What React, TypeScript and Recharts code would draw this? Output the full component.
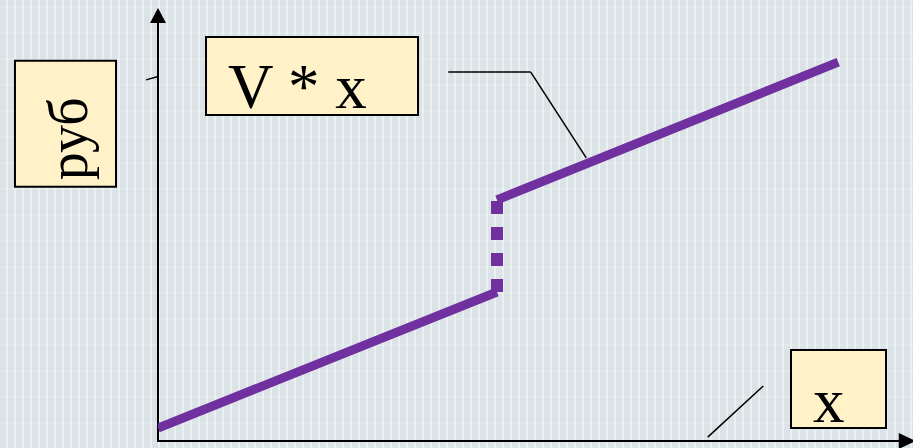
import React from "react";
import { LineChart, Line, XAxis, YAxis, ReferenceLine, ReferenceArea } from "recharts";

// Cost line (руб) against quantity x
const lowerSegment = [
  { x: 0, y: 3 },
  { x: 45.2, y: 34.4 },
];
const jumpSegment = [
  { x: 45.2, y: 34.4 },
  { x: 45.2, y: 55.7 },
];
const upperSegment = [
  { x: 45.2, y: 55.7 },
  { x: 90.7, y: 87.5 },
];

// Annotation labels
const yLabel = "руб";
const lineLabel = "V * x";
const xLabel = "x";

const W = 913;
const H = 448;
const PURPLE = "#7030A0";
const BOX_FILL = "#FFF2C9";
const FONT = "'Liberation Serif', 'Times New Roman', serif";

const XArrow = (p: any) => {
  const { x1, y1, x2 } = p;
  return (
    <g>
      <line x1={x1} y1={y1} x2={x2 - 10} y2={y1} stroke="#000" strokeWidth={2} />
      <polygon points={`${x2 + 4},${y1} ${x2 - 13},${y1 - 8} ${x2 - 13},${y1 + 8}`} fill="#000" />
    </g>
  );
};

const YArrow = (p: any) => {
  const { x1, y1, y2 } = p;
  const top = Math.min(y1, y2);
  const bottom = Math.max(y1, y2);
  return (
    <g>
      <line x1={x1} y1={bottom + 1} x2={x1} y2={top + 10} stroke="#000" strokeWidth={2} />
      <polygon points={`${x1},${top} ${x1 - 8},${top + 15} ${x1 + 8},${top + 15}`} fill="#000" />
    </g>
  );
};

const rubLabel = (props: any) => {
  const vb = props.viewBox;
  const cx = vb.x + vb.width / 2;
  const cy = vb.y + vb.height / 2 + 15;
  const bx = cx + 22;
  return (
    <text
      x={bx}
      y={cy}
      transform={`rotate(-90, ${bx}, ${cy})`}
      textAnchor="middle"
      fontFamily={FONT}
      fontSize={56}
      fill="#000"
    >
      {yLabel}
    </text>
  );
};

const vxLabel = (props: any) => {
  const vb = props.viewBox;
  return (
    <text x={vb.x + 22} y={vb.y + 71} fontFamily={FONT} fontSize={63} fill="#000">
      {lineLabel}
    </text>
  );
};

const xBoxLabel = (props: any) => {
  const vb = props.viewBox;
  return (
    <text x={vb.x + 22} y={vb.y + 72} fontFamily={FONT} fontSize={63} fill="#000">
      {xLabel}
    </text>
  );
};

export default function App() {
  const bg: React.CSSProperties = {
    position: "absolute",
    left: 0,
    top: 0,
    width: W,
    height: H,
    backgroundColor: "#DCE3E6",
    backgroundImage:
      "repeating-linear-gradient(90deg, rgba(255,255,255,0) 0px, rgba(255,255,255,0) 6px, rgba(238,243,245,0.8) 6px, rgba(238,243,245,0.8) 8px), repeating-linear-gradient(0deg, rgba(255,255,255,0) 0px, rgba(255,255,255,0) 24px, rgba(234,240,242,0.4) 24px, rgba(234,240,242,0.4) 26px)",
  };
  return (
    <div style={bg}>
      <LineChart
        width={W}
        height={H}
        margin={{ top: 8, right: 5, bottom: 7, left: 158 }}
      >
        <XAxis type="number" dataKey="x" domain={[0, 100]} hide allowDataOverflow />
        <YAxis type="number" dataKey="y" domain={[0, 100]} hide allowDataOverflow />

        {/* axes with arrows */}
        <ReferenceLine
          segment={[{ x: 0, y: 0 }, { x: 100.5, y: 0 }]}
          ifOverflow="visible"
          shape={XArrow}
        />
        <ReferenceLine
          segment={[{ x: 0, y: 0 }, { x: 0, y: 100 }]}
          ifOverflow="visible"
          shape={YArrow}
        />
        {/* small tick on y axis */}
        <ReferenceLine
          segment={[{ x: -1.6, y: 83.4 }, { x: -0.1, y: 84.1 }]}
          ifOverflow="visible"
          stroke="#000"
          strokeWidth={1.5}
        />

        {/* callout lines */}
        <ReferenceLine
          segment={[{ x: 38.7, y: 85.2 }, { x: 49.7, y: 85.2 }]}
          ifOverflow="visible"
          stroke="#000"
          strokeWidth={1.5}
        />
        <ReferenceLine
          segment={[{ x: 49.7, y: 85.2 }, { x: 57.1, y: 65.4 }]}
          ifOverflow="visible"
          stroke="#000"
          strokeWidth={1.5}
        />
        <ReferenceLine
          segment={[{ x: 73.3, y: 0.9 }, { x: 80.7, y: 12.7 }]}
          ifOverflow="visible"
          stroke="#000"
          strokeWidth={1.5}
        />

        {/* label boxes */}
        <ReferenceArea
          x1={-19.07}
          x2={-5.6}
          y1={58.7}
          y2={87.8}
          ifOverflow="visible"
          fill={BOX_FILL}
          fillOpacity={1}
          stroke="#000"
          strokeWidth={2}
          label={rubLabel}
        />
        <ReferenceArea
          x1={6.4}
          x2={34.67}
          y1={75.3}
          y2={93.3}
          ifOverflow="visible"
          fill={BOX_FILL}
          fillOpacity={1}
          stroke="#000"
          strokeWidth={2}
          label={vxLabel}
        />
        <ReferenceArea
          x1={84.4}
          x2={97.07}
          y1={3.0}
          y2={21.0}
          ifOverflow="visible"
          fill={BOX_FILL}
          fillOpacity={1}
          stroke="#000"
          strokeWidth={2}
          label={xBoxLabel}
        />

        <Line
          data={lowerSegment}
          dataKey="y"
          stroke={PURPLE}
          strokeWidth={9}
          dot={false}
          activeDot={false}
          isAnimationActive={false}
          strokeLinecap="butt"
        />
        <Line
          data={jumpSegment}
          dataKey="y"
          stroke={PURPLE}
          strokeWidth={12}
          strokeDasharray="13 13"
          dot={false}
          activeDot={false}
          isAnimationActive={false}
          strokeLinecap="butt"
        />
        <Line
          data={upperSegment}
          dataKey="y"
          stroke={PURPLE}
          strokeWidth={9}
          dot={false}
          activeDot={false}
          isAnimationActive={false}
          strokeLinecap="butt"
        />
      </LineChart>
    </div>
  );
}
